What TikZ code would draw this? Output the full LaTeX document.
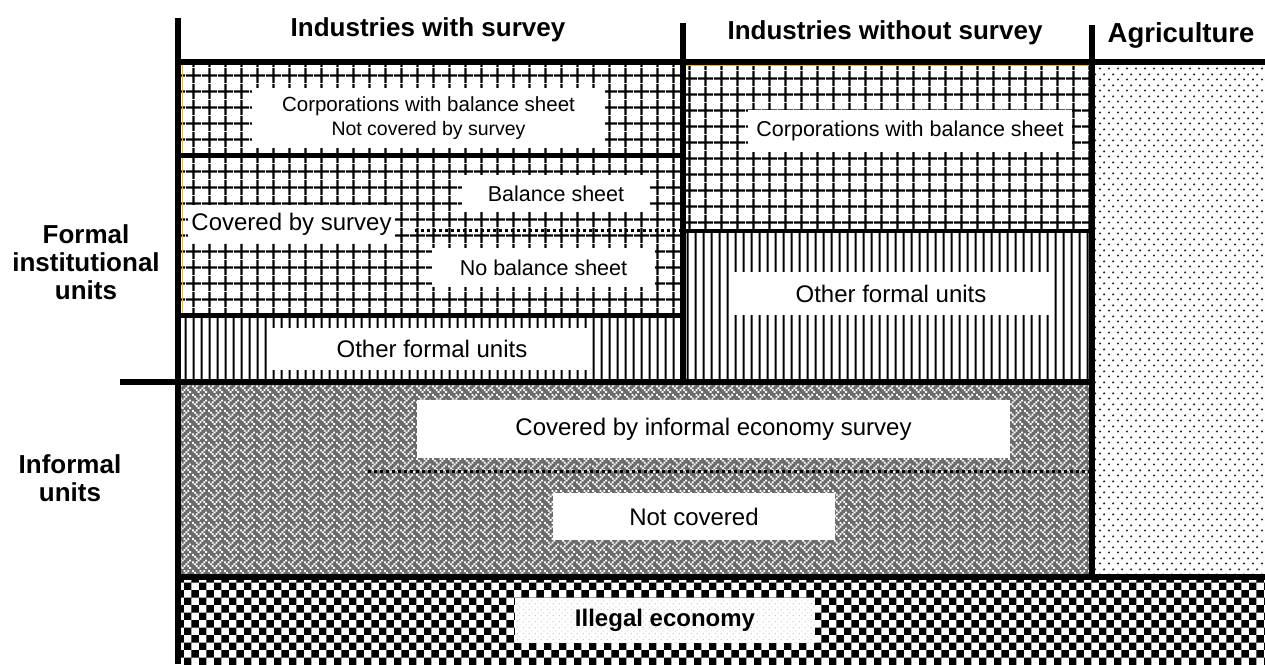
\documentclass[tikz,border=0pt]{standalone}
\usepackage{fontspec}
\setmainfont{Liberation Sans}
\usetikzlibrary{patterns}

\definecolor{edgeyellow}{RGB}{240,190,0}

% fill patterns, 1 unit = 1 pixel of the chart
\pgfdeclarepatternformonly{bsgrid}{\pgfpointorigin}{\pgfpoint{15.5pt}{15.5pt}}{\pgfpoint{15.5pt}{15.5pt}}{%
  \pgfsetlinewidth{2.2pt}%
  \pgfpathmoveto{\pgfpoint{0pt}{7.75pt}}\pgfpathlineto{\pgfpoint{15.5pt}{7.75pt}}%
  \pgfpathmoveto{\pgfpoint{7.75pt}{0pt}}\pgfpathlineto{\pgfpoint{7.75pt}{15.5pt}}%
  \pgfusepath{stroke}}
\pgfdeclarepatternformonly{vbars}{\pgfpointorigin}{\pgfpoint{7.6pt}{7.6pt}}{\pgfpoint{7.6pt}{7.6pt}}{%
  \pgfsetlinewidth{2pt}%
  \pgfpathmoveto{\pgfpoint{3.8pt}{-1pt}}\pgfpathlineto{\pgfpoint{3.8pt}{8.6pt}}%
  \pgfusepath{stroke}}
\pgfdeclarepatternformonly{weave}{\pgfpointorigin}{\pgfpoint{16pt}{16pt}}{\pgfpoint{16pt}{16pt}}{%
  \foreach \c/\r in {3/0,7/0,2/1,4/1,6/1,1/2,5/2,0/3,2/3,6/3,3/4,7/4,2/5,4/5,1/6,5/6,0/7,4/7,6/7}{%
    \pgfpathrectangle{\pgfpoint{\c*2pt}{\r*2pt}}{\pgfpoint{2pt}{2pt}}}%
  \pgfusepath{fill}}
\pgfdeclarepatternformonly{checker}{\pgfpointorigin}{\pgfpoint{15.4pt}{15.4pt}}{\pgfpoint{15.4pt}{15.4pt}}{%
  \pgfpathrectangle{\pgfpointorigin}{\pgfpoint{7.7pt}{7.7pt}}%
  \pgfpathrectangle{\pgfpoint{7.7pt}{7.7pt}}{\pgfpoint{7.7pt}{7.7pt}}%
  \pgfusepath{fill}}
\pgfdeclarepatternformonly{fielddots}{\pgfpointorigin}{\pgfpoint{9pt}{11pt}}{\pgfpoint{9pt}{11pt}}{%
  \pgfpathcircle{\pgfpoint{2.25pt}{2.75pt}}{1.3pt}%
  \pgfpathcircle{\pgfpoint{6.75pt}{8.25pt}}{1.3pt}%
  \pgfusepath{fill}}
\pgfdeclarepatternformonly{finedots}{\pgfpointorigin}{\pgfpoint{6pt}{6pt}}{\pgfpoint{6pt}{6pt}}{%
  \pgfpathrectangle{\pgfpoint{1pt}{1pt}}{\pgfpoint{1pt}{1pt}}%
  \pgfpathrectangle{\pgfpoint{4pt}{4pt}}{\pgfpoint{1pt}{1pt}}%
  \pgfusepath{fill}}

\begin{document}
\begin{tikzpicture}[x=1pt,y=-1pt,
    header/.style={font=\fontsize{26}{27}\selectfont\bfseries,align=center,inner sep=0pt},
    label/.style={
      % white box over the pattern
      fill=white,inner sep=0pt,align=center,
      font=\fontsize{24}{26}\selectfont},
    smalltext/.style={font=\fontsize{21.5}{24}\selectfont},
    wall/.style={line width=6pt},
    split/.style={line width=3pt,dash pattern=on 3pt off 3pt}]
  \useasboundingbox (0,0) rectangle (1265,664);

  % patterned areas
  \fill[pattern=bsgrid] (180,62) rectangle (683,315);
  \fill[pattern=vbars] (180,315) rectangle (683,382);
  \fill[pattern=bsgrid] (683,62) rectangle (1092,231);
  \fill[pattern=vbars] (683,231) rectangle (1092,382);
  \fill[black!58] (178,382) rectangle (1092,577);
  \fill[pattern=weave,pattern color=white] (178,382) rectangle (1092,577);
  \fill[pattern=fielddots,pattern color=black!85] (1092,62) rectangle (1265,577);
  \fill[pattern=checker] (178,577) rectangle (1265,664);
  \draw[edgeyellow,line width=1pt] (182,64) -- (182,313);
  \draw[edgeyellow,line width=1pt] (685,65.5) -- (1090,65.5);

  % column and row headers
  \node (withsurvey)  [header] at (428,30) {Industries with survey};
  \node (nosurvey)    [header] at (885,33) {Industries without survey};
  \node (agri)        [header,font=\fontsize{27.5}{28}\selectfont\bfseries] at (1181,35) {Agriculture};
  \node (formal)      [header] at (86,262) {Formal\\[1pt]institutional\\[1pt]units};
  \node (informal)    [header] at (70,478) {Informal\\[1pt]units};

  % boxes inside the areas
  \node (corpnotcov) [label,minimum width=353,minimum height=60,font=\fontsize{20.5}{24}\selectfont] at (428.5,118)
    {Corporations with balance sheet\\{\fontsize{19.5}{21}\selectfont Not covered by survey}};
  \node (covsurvey)  [label,minimum width=207,minimum height=38] at (291.5,224) {Covered by survey};
  \node (balance)    [label,smalltext,minimum width=188,minimum height=37] at (556,193.5) {Balance sheet};
  \node (nobalance)  [label,smalltext,minimum width=223,minimum height=39] at (543.5,267.5) {No balance sheet};
  \node (otherA)     [label,minimum width=320,minimum height=42] at (432,349) {Other formal units};
  \node (corpB)      [label,smalltext,minimum width=324,minimum height=42] at (910,131) {Corporations with balance sheet};
  \node (otherB)     [label,minimum width=318,minimum height=43] at (891,293.5) {Other formal units};
  \node (infsurvey)  [label,minimum width=593,minimum height=58] at (713.5,429) {Covered by informal economy survey};
  \node (notcovered) [label,minimum width=282,minimum height=47] at (694,516.5) {Not covered};
  \node (illegal)    [label,minimum width=300,minimum height=45,font=\fontsize{24}{26}\selectfont\bfseries,
    postaction={pattern=finedots,pattern color=black!30}] at (665,620.5) {Illegal economy};

  % borders
  \draw[wall] (178,18) -- (178,664);
  \draw[wall] (683,23) -- (683,382);
  \draw[wall] (1092,25) -- (1092,577);
  \draw[wall] (178,62) -- (1265,62);
  \draw[wall] (120,382) -- (1092,382);
  \draw[wall] (178,577) -- (1265,577);
  \draw[line width=5pt] (178,155) -- (683,155);
  \draw[line width=5pt] (178,315) -- (683,315);
  \draw[line width=4.5pt] (683,231) -- (1092,231);
  \draw[split] (415,230) -- (683,230);
  \draw[split] (368,471) -- (1092,471);
\end{tikzpicture}
\end{document}
